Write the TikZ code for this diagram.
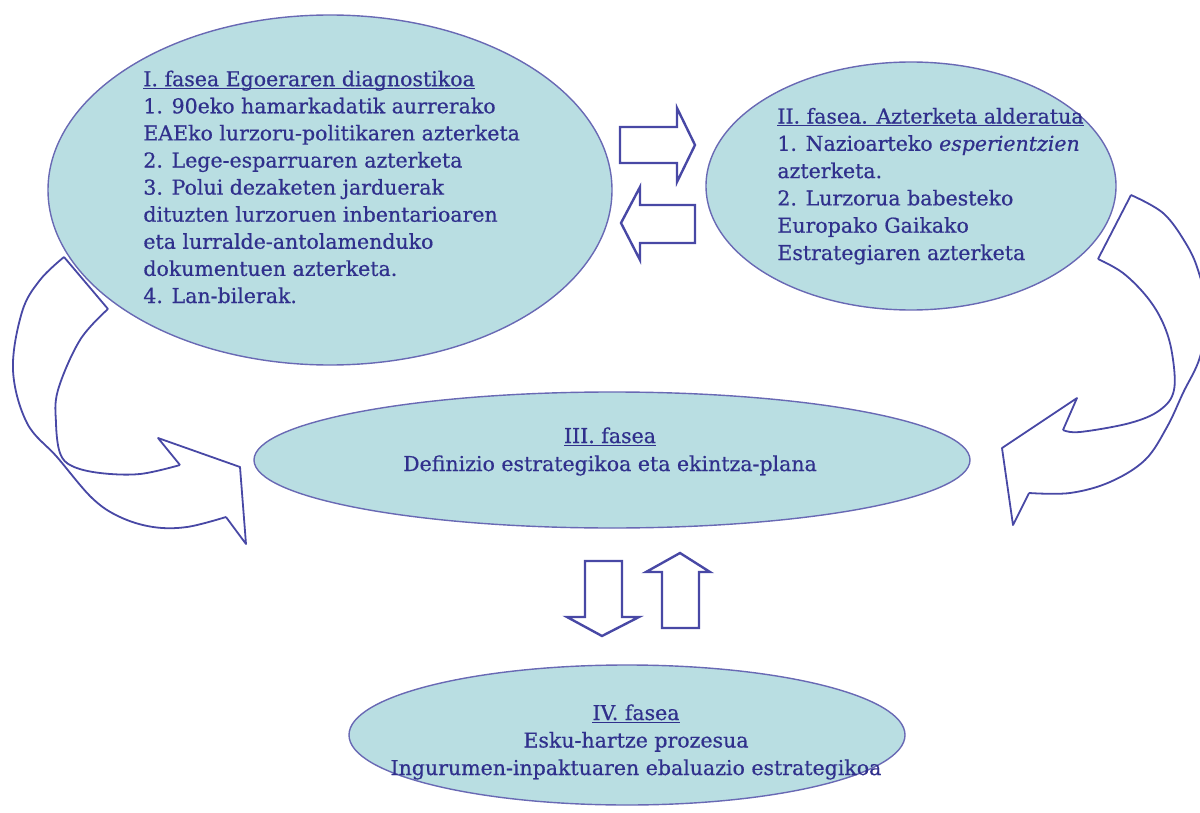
\documentclass[tikz,border=0pt]{standalone}
\usepackage{fontspec}
\setmainfont{DejaVu Serif}[FakeBold=0.6]
\usetikzlibrary{shapes.geometric}
\definecolor{linec}{RGB}{72,72,165}
\definecolor{textc}{RGB}{48,48,140}
\definecolor{fillc}{RGB}{185,222,226}
\definecolor{edgec}{RGB}{105,105,180}
\newcommand\ulx[1]{{\setbox0\hbox{#1}\rlap{\rule[-1.4pt]{\wd0}{0.5pt}}\box0}}
\begin{document}
\begin{tikzpicture}[x=0.5pt,y=-0.5pt,
  ell/.style={ellipse, draw=edgec, line width=0.7pt, fill=fillc, inner sep=0pt, outer sep=0pt},
  txt/.style={text=textc, inner sep=0pt, font=\fontsize{10.25}{13.55}\selectfont},
  blockarrow/.style={draw=linec, line width=1.2pt, line join=miter},
  curvearrow/.style={draw=linec, line width=0.9pt, line join=round}]
\path[use as bounding box] (0,0) rectangle (1200,813);

% curved arrow left
\draw[curvearrow] plot[smooth, tension=0.6] coordinates {(108,309) (80,340) (58,390) (56,423) (60,453) (72,466) (100,473) (140,474) (180,465)};
\draw[curvearrow] plot[smooth, tension=0.6] coordinates {(64,257) (40,280) (22,312) (13,370) (27,423) (57,457) (92,498) (120,517) (153,527) (187,527) (226,517)};
\draw[curvearrow] (108,309) -- (64,257);
\draw[curvearrow] (180,465) -- (158,438) -- (240,467) -- (246,544) -- (226,517);

% curved arrow right
\begin{scope}
\clip (0,0) rectangle (1200,813);
\draw[curvearrow] plot[smooth, tension=0.6] coordinates {(1098,259) (1123,273) (1147,297) (1163,323) (1172,353) (1174,390) (1160,410) (1130,423) (1080,432) (1063,430)};
\draw[curvearrow] plot[smooth, tension=0.6] coordinates {(1131,195) (1163,213) (1185,242) (1198,270) (1207,312) (1200,357) (1183,393) (1167,427) (1145,460) (1110,482) (1070,493) (1029,493)};
\draw[curvearrow] (1098,259) -- (1131,195);
\draw[curvearrow] (1063,430) -- (1077,398) -- (1002,448) -- (1013,525) -- (1029,493);
\end{scope}

% block arrows
\draw[blockarrow] (620,127) -- (677,127) -- (677,108) -- (695,145) -- (677,182) -- (677,163) -- (620,163) -- cycle;
\draw[blockarrow] (695,205) -- (640,205) -- (640,187) -- (621,223) -- (640,260) -- (640,243) -- (695,243) -- cycle;
\draw[blockarrow] (585,561) -- (622,561) -- (622,617) -- (639,617) -- (602,636) -- (567,617) -- (585,617) -- cycle;
\draw[blockarrow] (662,628) -- (662,572) -- (646,572) -- (680,553) -- (710,572) -- (699,572) -- (699,628) -- cycle;

% ellipses
\node[ell, minimum width=282pt, minimum height=175pt] (e1) at (330,190) {};
\node[ell, minimum width=205pt, minimum height=124pt] (e2) at (911,186) {};
\node[ell, minimum width=358pt, minimum height=68pt] (e3) at (612,460) {};
\node[ell, minimum width=278pt, minimum height=70pt] (e4) at (627,735) {};

% texts (anchor = baseline of the last line)
\node[txt, anchor=base west, align=left] (t1) at (143,303) {\ulx{I. fasea Egoeraren diagnostikoa}\\
1. 90eko hamarkadatik aurrerako\\
EAEko lurzoru-politikaren azterketa\\
2. Lege-esparruaren azterketa\\
3. Polui dezaketen jarduerak\\
dituzten lurzoruen inbentarioaren\\
eta lurralde-antolamenduko\\
dokumentuen azterketa.\\
4. Lan-bilerak.};
\node[txt, anchor=base west, align=left, font=\fontsize{10.25}{13.65}\selectfont] (t2) at (777,260) {\ulx{II. fasea. Azterketa alderatua}\\
1. Nazioarteko \textit{esperientzien}\\
azterketa.\\
2. Lurzorua babesteko\\
Europako Gaikako\\
Estrategiaren azterketa};
\node[txt, anchor=base, align=center, font=\fontsize{10.25}{14}\selectfont] (t3) at (610,471) {\ulx{III. fasea}\\
Definizio estrategikoa eta ekintza-plana};
\node[txt, anchor=base, align=center, font=\fontsize{10.25}{13.75}\selectfont] (t4) at (636,775) {\ulx{IV. fasea}\\
Esku-hartze prozesua\\
Ingurumen-inpaktuaren ebaluazio estrategikoa};
\end{tikzpicture}
\end{document}
